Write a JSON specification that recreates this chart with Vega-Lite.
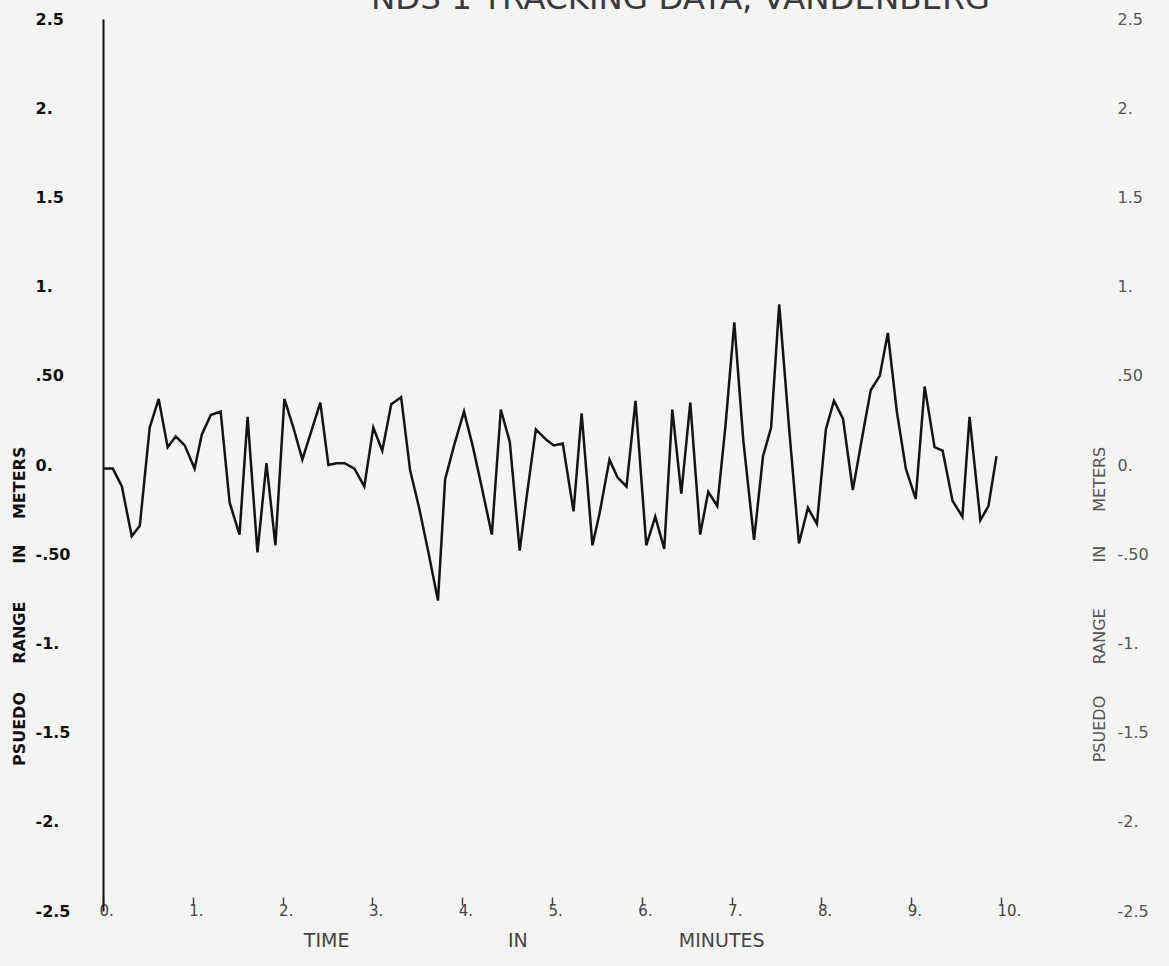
{
  "$schema": "https://vega.github.io/schema/vega-lite/v6.json",
  "width": 898,
  "height": 892,
  "autosize": "none",
  "padding": {"left": 103, "top": 19, "right": 168, "bottom": 55},
  "background": "#f4f4f2",
  "config": {
    "view": {"stroke": null},
    "axis": {"grid": false}
  },
  "datasets": {
    "track": [
      {"t": 0.00, "v": -0.02}, {"t": 0.11, "v": -0.02}, {"t": 0.21, "v": -0.12}, {"t": 0.32, "v": -0.40},
      {"t": 0.41, "v": -0.34}, {"t": 0.52, "v": 0.21}, {"t": 0.62, "v": 0.37}, {"t": 0.72, "v": 0.10},
      {"t": 0.81, "v": 0.16}, {"t": 0.91, "v": 0.11}, {"t": 1.02, "v": -0.02}, {"t": 1.10, "v": 0.17},
      {"t": 1.20, "v": 0.28}, {"t": 1.31, "v": 0.30}, {"t": 1.41, "v": -0.21}, {"t": 1.52, "v": -0.39},
      {"t": 1.61, "v": 0.27}, {"t": 1.72, "v": -0.49}, {"t": 1.82, "v": 0.01}, {"t": 1.92, "v": -0.45},
      {"t": 2.02, "v": 0.37}, {"t": 2.12, "v": 0.21}, {"t": 2.22, "v": 0.03}, {"t": 2.32, "v": 0.19},
      {"t": 2.42, "v": 0.35}, {"t": 2.51, "v": 0.00}, {"t": 2.60, "v": 0.01}, {"t": 2.69, "v": 0.01},
      {"t": 2.80, "v": -0.02}, {"t": 2.91, "v": -0.12}, {"t": 3.01, "v": 0.21}, {"t": 3.11, "v": 0.08},
      {"t": 3.21, "v": 0.34}, {"t": 3.32, "v": 0.38}, {"t": 3.42, "v": -0.03}, {"t": 3.52, "v": -0.24},
      {"t": 3.62, "v": -0.48}, {"t": 3.73, "v": -0.76}, {"t": 3.81, "v": -0.08}, {"t": 3.91, "v": 0.11},
      {"t": 4.02, "v": 0.30}, {"t": 4.12, "v": 0.10}, {"t": 4.22, "v": -0.13}, {"t": 4.33, "v": -0.39},
      {"t": 4.43, "v": 0.31}, {"t": 4.53, "v": 0.13}, {"t": 4.64, "v": -0.48}, {"t": 4.72, "v": -0.17},
      {"t": 4.82, "v": 0.20}, {"t": 4.94, "v": 0.14}, {"t": 5.02, "v": 0.11}, {"t": 5.12, "v": 0.12},
      {"t": 5.24, "v": -0.26}, {"t": 5.33, "v": 0.29}, {"t": 5.45, "v": -0.45}, {"t": 5.53, "v": -0.27},
      {"t": 5.64, "v": 0.03}, {"t": 5.73, "v": -0.07}, {"t": 5.83, "v": -0.12}, {"t": 5.93, "v": 0.36},
      {"t": 6.05, "v": -0.45}, {"t": 6.15, "v": -0.29}, {"t": 6.25, "v": -0.47}, {"t": 6.34, "v": 0.31},
      {"t": 6.44, "v": -0.16}, {"t": 6.54, "v": 0.35}, {"t": 6.65, "v": -0.39}, {"t": 6.74, "v": -0.15},
      {"t": 6.84, "v": -0.23}, {"t": 6.93, "v": 0.21}, {"t": 7.03, "v": 0.80}, {"t": 7.13, "v": 0.14},
      {"t": 7.25, "v": -0.42}, {"t": 7.35, "v": 0.05}, {"t": 7.44, "v": 0.21}, {"t": 7.53, "v": 0.90},
      {"t": 7.64, "v": 0.21}, {"t": 7.75, "v": -0.44}, {"t": 7.85, "v": -0.24}, {"t": 7.95, "v": -0.33},
      {"t": 8.05, "v": 0.20}, {"t": 8.14, "v": 0.36}, {"t": 8.24, "v": 0.26}, {"t": 8.35, "v": -0.14},
      {"t": 8.47, "v": 0.20}, {"t": 8.55, "v": 0.42}, {"t": 8.65, "v": 0.50}, {"t": 8.74, "v": 0.74},
      {"t": 8.84, "v": 0.30}, {"t": 8.94, "v": -0.02}, {"t": 9.05, "v": -0.19}, {"t": 9.15, "v": 0.44},
      {"t": 9.26, "v": 0.10}, {"t": 9.35, "v": 0.08}, {"t": 9.46, "v": -0.20}, {"t": 9.57, "v": -0.29},
      {"t": 9.65, "v": 0.27}, {"t": 9.77, "v": -0.31}, {"t": 9.86, "v": -0.23}, {"t": 9.95, "v": 0.05}
    ],
    "leftWords": [
      {"w": "METERS", "x": -0.92, "y": -0.10},
      {"w": "IN", "x": -0.92, "y": -0.50},
      {"w": "RANGE", "x": -0.92, "y": -0.94},
      {"w": "PSUEDO", "x": -0.92, "y": -1.48}
    ],
    "rightWords": [
      {"w": "METERS", "x": 11.1, "y": -0.08},
      {"w": "IN", "x": 11.1, "y": -0.50},
      {"w": "RANGE", "x": 11.1, "y": -0.96},
      {"w": "PSUEDO", "x": 11.1, "y": -1.48}
    ],
    "bottomWords": [
      {"w": "TIME", "x": 2.49, "y": -2.67},
      {"w": "IN", "x": 4.62, "y": -2.67},
      {"w": "MINUTES", "x": 6.89, "y": -2.67}
    ],
    "heading": [
      {"w": "NDS 1 TRACKING DATA, VANDENBERG", "x": 6.43, "y": 2.555}
    ]
  },
  "layer": [
    {
      "data": {"name": "track"},
      "mark": {"type": "line", "color": "#141414", "strokeWidth": 2.5},
      "encoding": {
        "x": {
          "field": "t", "type": "quantitative",
          "scale": {"domain": [0, 10], "nice": false, "zero": false},
          "axis": {
            "orient": "bottom", "title": null, "domain": false,
            "values": [0, 1, 2, 3, 4, 5, 6, 7, 8, 9, 10],
            "labelExpr": "datum.value + '.'",
            "offset": -6, "tickSize": -8, "tickColor": "#444", "tickWidth": 1.5,
            "labelPadding": 13, "labelBaseline": "middle", "labelAlign": "left", "labelOffset": -4,
            "labelFont": "DejaVu Sans", "labelFontSize": 15, "labelColor": "#444"
          }
        },
        "y": {
          "field": "v", "type": "quantitative",
          "scale": {"domain": [-2.5, 2.5], "nice": false},
          "axis": {
            "orient": "left", "title": null, "ticks": false,
            "domainColor": "#111", "domainWidth": 2,
            "values": [-2.5, -2, -1.5, -1, -0.5, 0, 0.5, 1, 1.5, 2, 2.5],
            "labelExpr": "datum.value == 0 ? '0.' : (datum.value < 0 ? '-' : '') + (abs(datum.value) == 0.5 ? '.50' : (abs(datum.value) % 1 == 0 ? abs(datum.value) + '.' : '' + abs(datum.value)))",
            "labelAlign": "left", "labelPadding": 68, "labelBaseline": "middle",
            "labelFont": "DejaVu Sans", "labelFontWeight": "bold", "labelFontSize": 16, "labelColor": "#111",
            "encode": {"labels": {"update": {"dx": {"signal": "datum.value < 0 ? -12 : 0"}}}}
          }
        }
      }
    },
    {
      "data": {"name": "leftWords"},
      "mark": {"type": "text", "angle": 270, "align": "center", "baseline": "middle", "font": "DejaVu Sans", "fontWeight": "bold", "fontSize": 16, "color": "#111"},
      "encoding": {
        "x": {"field": "x", "type": "quantitative"},
        "y": {"field": "y", "type": "quantitative", "scale": {"domain": [-2.5, 2.5], "nice": false}, "axis": null},
        "text": {"field": "w"}
      }
    },
    {
      "data": {"name": "bottomWords"},
      "mark": {"type": "text", "align": "center", "baseline": "middle", "font": "DejaVu Sans", "fontSize": 19, "color": "#444"},
      "encoding": {
        "x": {"field": "x", "type": "quantitative"},
        "y": {"field": "y", "type": "quantitative", "scale": {"domain": [-2.5, 2.5], "nice": false}, "axis": null},
        "text": {"field": "w"}
      }
    },
    {
      "data": {"name": "heading"},
      "mark": {"type": "text", "align": "center", "baseline": "alphabetic", "font": "DejaVu Sans", "fontSize": 32.5, "color": "#3a3a3a"},
      "encoding": {
        "x": {"field": "x", "type": "quantitative"},
        "y": {"field": "y", "type": "quantitative", "scale": {"domain": [-2.5, 2.5], "nice": false}, "axis": null},
        "text": {"field": "w"}
      }
    },
    {
      "data": {"name": "rightWords"},
      "mark": {"type": "text", "angle": 270, "align": "center", "baseline": "middle", "font": "DejaVu Sans", "fontSize": 16, "color": "#555"},
      "encoding": {
        "x": {"field": "x", "type": "quantitative"},
        "y": {
          "field": "y", "type": "quantitative",
          "scale": {"domain": [-2.5, 2.5], "nice": false},
          "axis": {
            "orient": "right", "title": null, "ticks": false, "domain": false,
            "values": [-2.5, -2, -1.5, -1, -0.5, 0, 0.5, 1, 1.5, 2, 2.5],
            "labelExpr": "datum.value == 0 ? '0.' : (datum.value < 0 ? '-' : '') + (abs(datum.value) == 0.5 ? '.50' : (abs(datum.value) % 1 == 0 ? abs(datum.value) + '.' : '' + abs(datum.value)))",
            "labelAlign": "left", "labelPadding": 116, "labelBaseline": "middle",
            "labelFont": "DejaVu Sans", "labelFontSize": 16, "labelColor": "#555"
          }
        },
        "text": {"field": "w"}
      }
    }
  ],
  "resolve": {"scale": {"y": "independent"}, "axis": {"y": "independent"}}
}
